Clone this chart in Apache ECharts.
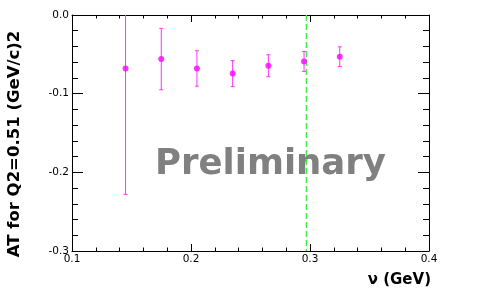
<!DOCTYPE html>
<html><head><meta charset="utf-8">
<script src="https://cdn.jsdelivr.net/npm/echarts@6/dist/echarts.min.js"></script>
<style>html,body{margin:0;padding:0;background:#fff}#c{width:477px;height:296px}</style>
</head><body><div id="c"></div>
<script>
// data
const nu = [0.145, 0.175, 0.205, 0.235, 0.265, 0.295, 0.325];
const AT = [-0.068, -0.056, -0.068, -0.0745, -0.0645, -0.059, -0.053];
const ATerr = [0.160, 0.039, 0.0225, 0.0165, 0.014, 0.0127, 0.0125];
const xTickValues = [0.1, 0.2, 0.3, 0.4];
const yTickValues = [-0.3, -0.2, -0.1, 0.0];
const cutNu = 0.297;
const yTitle = 'AT for Q2=0.51 (GeV/c)2';
const xTitle = 'ν (GeV)';
const watermark = 'Preliminary';

const FONT = '"DejaVu Sans", sans-serif';
const points = nu.map((x, i) => [x, AT[i]]);
const bars = nu.map((x, i) => [x, AT[i] - ATerr[i], AT[i] + ATerr[i]]);
const yMin = yTickValues[0], yMax = yTickValues[yTickValues.length - 1];
const cutLine = [[cutNu, yMax], [cutNu, yMin]];

const chart = echarts.init(document.getElementById('c'), null, {renderer: 'canvas'});
const axisBase = (extra) => Object.assign({
  type: 'value',
  axisLine: {show: true, onZero: false, lineStyle: {color: '#000', width: 1}},
  splitLine: {show: false},
}, extra);

const xCommon = {
  min: xTickValues[0], max: xTickValues[xTickValues.length - 1], interval: 0.1,
  axisTick: {show: true, inside: true, length: 7, lineStyle: {color: '#000'}},
  minorTick: {show: true, splitNumber: 5, length: 3.5, lineStyle: {color: '#000'}},
};
const yCommon = {
  min: yMin, max: yMax, interval: 0.1,
  axisTick: {show: true, inside: true, length: 11, lineStyle: {color: '#000'}},
  minorTick: {show: true, splitNumber: 5, length: 6, lineStyle: {color: '#000'}},
};

chart.setOption({
  animation: false,
  backgroundColor: '#fff',
  grid: {left: 72, right: 48, top: 15, bottom: 45},
  xAxis: [
    axisBase(Object.assign({}, xCommon, {
      position: 'bottom',
      axisLabel: {show: true, margin: 3, color: '#000', fontSize: 10.5, fontFamily: FONT,
        showMinLabel: true, showMaxLabel: true, formatter: v => (+v).toFixed(1)}
    })),
    axisBase(Object.assign({}, xCommon, {position: 'top', axisLabel: {show: false}}))
  ],
  yAxis: [
    axisBase(Object.assign({}, yCommon, {
      position: 'left',
      axisLabel: {show: true, margin: 3, color: '#000', fontSize: 10.5, fontFamily: FONT,
        showMinLabel: true, showMaxLabel: true,
        formatter: v => { const s = (+v).toFixed(1); return s === '-0.0' ? '0.0' : s; }}
    })),
    axisBase(Object.assign({}, yCommon, {position: 'right', axisLabel: {show: false}}))
  ],
  series: [
    {
      type: 'line',
      data: cutLine,
      symbol: 'none',
      lineStyle: {color: '#44ee44', type: [6, 3], width: 1.5},
      silent: true, z: 1
    },
    {
      type: 'custom',
      clip: true,
      data: bars,
      renderItem: function (params, api) {
        const x = api.value(0), lo = api.value(1), hi = api.value(2);
        const a = api.coord([x, lo]), b = api.coord([x, hi]);
        const w = 2;
        const st = {stroke: '#ff33ff', lineWidth: 1};
        return {type: 'group', children: [
          {type: 'line', shape: {x1: a[0], y1: a[1], x2: b[0], y2: b[1]}, style: st},
          {type: 'line', shape: {x1: a[0] - w, y1: a[1], x2: a[0] + w, y2: a[1]}, style: st},
          {type: 'line', shape: {x1: b[0] - w, y1: b[1], x2: b[0] + w, y2: b[1]}, style: st}
        ]};
      },
      silent: true, z: 2
    },
    {
      type: 'scatter',
      data: points,
      symbol: 'circle', symbolSize: 6,
      itemStyle: {color: '#ff00ff'},
      silent: true, z: 3
    }
  ],
  graphic: [
    {type: 'text', x: 155, y: 165, z: 0, silent: true,
      style: {text: watermark, font: 'bold 35.5px ' + FONT, fill: '#808080', align: 'left', verticalAlign: 'middle'}},
    {type: 'text', x: 15, y: 144, rotation: Math.PI / 2, silent: true,
      style: {text: yTitle, font: 'bold 16.5px ' + FONT, fill: '#000', align: 'center', verticalAlign: 'middle'}},
    {type: 'text', x: 431, y: 280, silent: true,
      style: {text: xTitle, font: 'bold 15px ' + FONT, fill: '#000', align: 'right', verticalAlign: 'middle'}}
  ]
});
</script>
</body></html>
